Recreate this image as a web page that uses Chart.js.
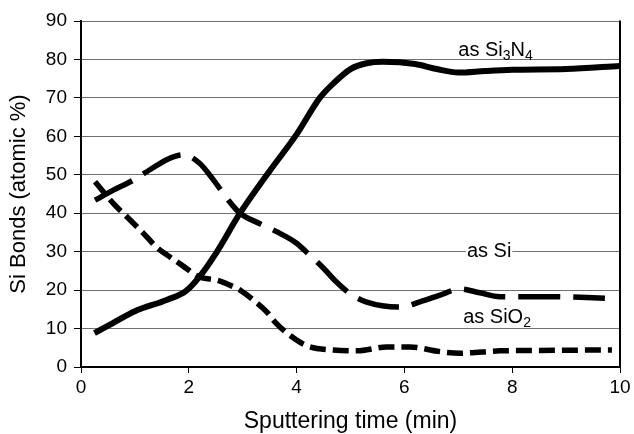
<!DOCTYPE html>
<html>
<head>
<meta charset="utf-8">
<script src="https://cdn.jsdelivr.net/npm/chart.js@4.4.0/dist/chart.umd.min.js"></script>
<style>
  html, body { margin: 0; padding: 0; background: #fff; }
  #wrap { width: 634px; height: 434px; }
</style>
</head>
<body>
<div id="wrap"><canvas id="c" width="634" height="434"></canvas></div>
<script>
// ---- Data ----
const si3n4Time = [0.25, 0.6, 1.0, 1.6, 1.95, 2.2, 2.5, 2.95, 3.5, 4.0, 4.43, 4.7, 5.0, 5.3, 5.6, 6.2, 6.6, 7.0, 7.5, 8.0, 9.0, 10.0];
const si3n4Vals = [8.8, 11.5, 14.5, 17.5, 19.8, 23.5, 29.5, 40, 51, 60.5, 70, 74, 77.5, 79, 79.4, 78.8, 77.5, 76.6, 77, 77.3, 77.5, 78.3];

const siTime = [0.26, 0.6, 0.97, 1.3, 1.6, 1.9, 2.2, 2.46, 2.7, 2.95, 3.3, 3.63, 4.0, 4.25, 4.5, 4.74, 5.0, 5.3, 5.92, 6.3, 6.66, 7.03, 7.4, 7.77, 8.7, 9.72];
const siVals = [43.4, 46, 48.6, 51.5, 54, 55.2, 53, 48.6, 44, 40, 37.4, 35.2, 32.2, 29, 25.7, 22.1, 19, 16.9, 15.6, 17, 18.7, 20.3, 19.3, 18.3, 18.3, 17.9];

const sio2Time = [0.26, 0.63, 0.82, 1.0, 1.15, 1.4, 1.6, 1.87, 2.2, 2.52, 2.76, 2.95, 3.2, 3.45, 3.6, 3.9, 4.2, 4.68, 5.12, 5.67, 6.1, 6.66, 7.03, 7.77, 8.5, 9.63, 9.85];
const sio2Vals = [48.2, 42.1, 39.5, 37, 34.9, 31.2, 29.1, 26.5, 23.4, 22.6, 21.3, 20, 17.4, 14.3, 11.7, 8, 5.5, 4.4, 4.2, 5.2, 5.2, 4.0, 3.6, 4.2, 4.3, 4.4, 4.4];

const xTicks = [0, 2, 4, 6, 8, 10];
const yTicks = [0, 10, 20, 30, 40, 50, 60, 70, 80, 90];

const xTitle = 'Sputtering time (min)';
const yTitle = 'Si Bonds (atomic %)';

// series labels: [text, isSubscript]
const labelSi3N4 = [['as Si', 0], ['3', 1], ['N', 0], ['4', 1]];
const labelSi = [['as Si', 0]];
const labelSiO2 = [['as SiO', 0], ['2', 1]];

const toPts = (xs, ys) => xs.map((x, i) => ({x: x, y: ys[i]}));

const FONT = '"Liberation Sans", Arial, Helvetica, sans-serif';

const annotations = [
  {parts: labelSi3N4, x: 7.0, y: 81, bg: false},
  {parts: labelSi, x: 7.16, y: 28.7, bg: true},
  {parts: labelSiO2, x: 7.09, y: 11.4, bg: false}
];

const framePlugin = {
  id: 'frame',
  afterDatasetsDraw(chart) {
    const {ctx, chartArea, scales} = chart;
    ctx.save();
    // right border
    ctx.strokeStyle = '#000';
    ctx.lineWidth = 2;
    ctx.beginPath();
    ctx.moveTo(chartArea.right, chartArea.top - 0.5);
    ctx.lineTo(chartArea.right, chartArea.bottom + 1);
    ctx.stroke();
    // series labels
    ctx.textBaseline = 'alphabetic';
    ctx.textAlign = 'left';
    annotations.forEach(a => {
      let px = scales.x.getPixelForValue(a.x);
      const py = scales.y.getPixelForValue(a.y);
      let w = 0;
      a.parts.forEach(p => {
        ctx.font = (p[1] ? '14px ' : '20px ') + FONT;
        w += ctx.measureText(p[0]).width;
      });
      if (a.bg) {
        ctx.fillStyle = '#fff';
        ctx.fillRect(px - 1, py - 15, w + 2, 19);
      }
      ctx.fillStyle = '#000';
      a.parts.forEach(p => {
        ctx.font = (p[1] ? '14px ' : '20px ') + FONT;
        ctx.fillText(p[0], px, py + (p[1] ? 4 : 0));
        px += ctx.measureText(p[0]).width;
      });
    });
    ctx.restore();
  }
};

const lineStyle = {
  borderColor: '#000',
  pointRadius: 0,
  pointHoverRadius: 0,
  fill: false,
  cubicInterpolationMode: 'monotone',
  borderCapStyle: 'butt',
  borderJoinStyle: 'round'
};

new Chart(document.getElementById('c'), {
  type: 'line',
  data: {
    datasets: [
      Object.assign({label: 'as Si3N4', data: toPts(si3n4Time, si3n4Vals), borderWidth: 6}, lineStyle),
      Object.assign({label: 'as Si', data: toPts(siTime, siVals), borderWidth: 5.5, borderDash: [42, 13]}, lineStyle),
      Object.assign({label: 'as SiO2', data: toPts(sio2Time, sio2Vals), borderWidth: 5.5, borderDash: [16, 7]}, lineStyle)
    ]
  },
  options: {
    responsive: false,
    animation: false,
    events: [],
    layout: {padding: {top: 21, right: 14, left: 0, bottom: 0}},
    plugins: {legend: {display: false}, tooltip: {enabled: false}},
    scales: {
      x: {
        type: 'linear',
        min: 0, max: 10,
        afterBuildTicks: s => { s.ticks = xTicks.map(v => ({value: v})); },
        afterFit: s => { s.height = 67; },
        ticks: {color: '#000', font: {family: FONT, size: 19}, padding: 3, maxRotation: 0},
        grid: {display: true, drawOnChartArea: false, drawTicks: true, tickLength: 6, tickColor: '#000', tickWidth: 1},
        border: {display: true, color: '#000', width: 2},
        title: {display: true, text: xTitle, color: '#000', font: {family: FONT, size: 23, lineHeight: 1.2}, padding: {top: 0, bottom: -1}}
      },
      y: {
        type: 'linear',
        min: 0, max: 90,
        afterBuildTicks: s => { s.ticks = yTicks.map(v => ({value: v})); },
        afterFit: s => { s.width = 81; },
        ticks: {color: '#000', font: {family: FONT, size: 19}, padding: 7},
        grid: {display: true, color: '#707070', lineWidth: 1, drawTicks: true, tickLength: 7, tickColor: '#000', tickWidth: 1},
        border: {display: true, color: '#000', width: 2},
        title: {display: true, text: yTitle, color: '#000', font: {family: FONT, size: 22, lineHeight: 1.2}, padding: {top: 6, bottom: 0}}
      }
    }
  },
  plugins: [framePlugin]
});
</script>
</body>
</html>
